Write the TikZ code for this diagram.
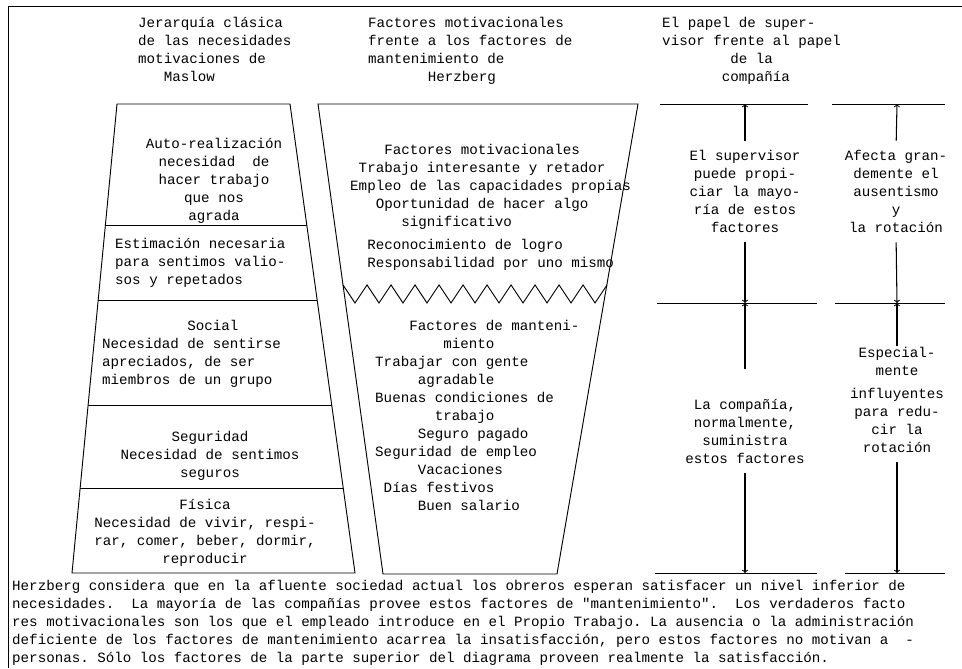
\documentclass[tikz,border=0pt]{standalone}
\usepackage{fontspec}
\setmonofont{Liberation Mono}
\usepackage{tikz}
\usetikzlibrary{calc}

\tikzset{
  txt/.style={font=\ttfamily\fontsize{12.1}{15.4}\selectfont, inner sep=0pt},
  ctxt/.style={txt, align=center, anchor=north},
  ltxt/.style={txt, align=left, anchor=north west},
  edge/.style={line width=0.8pt},
  arr/.style={->, line width=0.9pt, shorten <=8pt},
}

\begin{document}
\begin{tikzpicture}[x=0.03cm, y=-0.03cm]
\useasboundingbox (0,0) rectangle (962,668);

%% Frame (top and left only)
\coordinate (FRtr) at (962,6);
\coordinate (FRtl) at (8,6);
\coordinate (FRbl) at (8,668);
\draw [edge] (FRtr) -- (FRtl) -- (FRbl);

%% Headings
\node [ltxt] (H1) at (138,17) {Jerarquía clásica\\de las necesidades\\motivaciones de\\~~~Maslow};
\node [ltxt] (H2) at (368,17) {Factores motivacionales\\frente a los factores de\\mantenimiento de\\~~~~~~~Herzberg};
\node [ltxt] (H3) at (662,17) {El papel de super-\\visor frente al papel\\~~~~~~~~de la\\~~~~~~~compañía};

%% Define the corners
% tl = top left, br = bottom right
\coordinate (Ltl) at (117,104);
\coordinate (Ltr) at (290,104);
\coordinate (Lbr) at (355,573);
\coordinate (Lbl) at (72,573);

\coordinate (Mtl) at (318,104);
\coordinate (Mtr) at (638,104);
\coordinate (Mbr) at (557,574);
\coordinate (Mbl) at (383,574);

%% Maslow pyramid
\draw [edge] (Ltl) -- (Ltr) -- (Lbr) -- (Lbl) -- cycle;
\foreach \f in {0.260, 0.418, 0.642, 0.819}
  \draw [edge] ($(Ltl)!\f!(Lbl)$) -- ($(Ltr)!\f!(Lbr)$);

\node [ctxt] (Auto) at (214,138) {Auto-realización\\necesidad~ de\\hacer trabajo\\que nos\\agrada};
\node [ltxt] (Estim) at (115,238) {Estimación necesaria\\para sentimos valio-\\sos y repetados};
\node [ltxt] (Social) at (102,320) {~~~~~~~~~~Social\\Necesidad de sentirse\\apreciados, de ser\\miembros de un grupo};
\node [ctxt] (Segur) at (210,431) {Seguridad\\Necesidad de sentimos\\seguros};
\node [ctxt] (Fisica) at (205,499) {Física\\Necesidad de vivir, respi-\\rar, comer, beber, dormir,\\reproducir};

%% Herzberg funnel
\draw [edge] (Mtl) -- (Mtr) -- (Mbr) -- (Mbl) -- cycle;
\coordinate (ZL) at ($(Mtl)!0.385!(Mbl)$);
\draw [edge] (ZL) \foreach \k in {1,...,11} {-- ++(12,18) -- ++(12,-18)};

\node [ltxt] (Motiv) at (350,144) {~~~~Factores motivacionales\\~Trabajo interesante y retador\\Empleo de las capacidades propias\\~~~Oportunidad de hacer algo\\~~~~~~significativo\\[4pt]~~Reconocimiento de logro\\~~Responsabilidad por uno mismo};
\node [ltxt] (Mant) at (375,320) {~~~~Factores de manteni-\\~~~~~~~~miento\\Trabajar con gente\\~~~~~agradable\\Buenas condiciones de\\~~~~~~~trabajo\\~~~~~Seguro pagado\\Seguridad de empleo\\~~~~~Vacaciones\\~Días festivos\\~~~~~Buen salario};

%% Supervisor / company
\coordinate (TAl) at (660,104);
\coordinate (TAr) at (808,104);
\coordinate (MAl) at (657,303);
\coordinate (MAr) at (817,303);
\coordinate (BAl) at (655,573);
\coordinate (BAr) at (817,573);
\coordinate (AT) at (745,104);
\coordinate (AM) at (745,303);
\coordinate (AB) at (745,573);

\draw [edge] (TAl) -- (TAr);
\draw [edge] (MAl) -- (MAr);
\draw [edge] (BAl) -- (BAr);

\node [ctxt] (SupA) at (745,150) {El supervisor\\puede propi-\\ciar la mayo-\\ría de estos\\factores};
\node [ctxt] (CompA) at (745,399) {La compañía,\\normalmente,\\suministra\\estos factores};

\draw [arr] (SupA.north) -- (AT);
\draw [arr] (SupA.south) -- (AM);
\draw [arr, shorten <=26pt] (CompA.north) -- (AM);
\draw [arr] (CompA.south) -- (AB);

%% Absenteeism / turnover
\coordinate (TBl) at (832,104);
\coordinate (TBr) at (945,104);
\coordinate (MBl) at (835,303);
\coordinate (MBr) at (945,303);
\coordinate (BBl) at (845,573);
\coordinate (BBr) at (945,573);
\coordinate (BT) at (897,104);
\coordinate (BM) at (897,303);
\coordinate (BB) at (897,573);

\draw [edge] (TBl) -- (TBr);
\draw [edge] (MBl) -- (MBr);
\draw [edge] (BBl) -- (BBr);

\node [ctxt] (AfB) at (896,150) {Afecta gran-\\demente el\\ausentismo\\y\\la rotación};
\node [ctxt] (EspB) at (897,347) {Especial-\\mente\\[4pt]influyentes\\para redu-\\cir la\\rotación};

\draw [arr] (AfB.north) -- (BT);
\draw [arr] (AfB.south) -- (BM);
\draw [arr, shorten <=1pt] (EspB.north) -- (BM);
\draw [arr] (EspB.south) -- (BB);

%% Note below the diagram
\node [ltxt] (Note) at (12,580) {Herzberg considera que en la afluente sociedad actual los obreros esperan satisfacer un nivel inferior de\\necesidades.~ La mayoría de las compañías provee estos factores de "mantenimiento".~ Los verdaderos facto\\res motivacionales son los que el empleado introduce en el Propio Trabajo. La ausencia o la administración\\deficiente de los factores de mantenimiento acarrea la insatisfacción, pero estos factores no motivan a~ -\\personas. Sólo los factores de la parte superior del diagrama proveen realmente la satisfacción.};

\end{tikzpicture}
\end{document}
